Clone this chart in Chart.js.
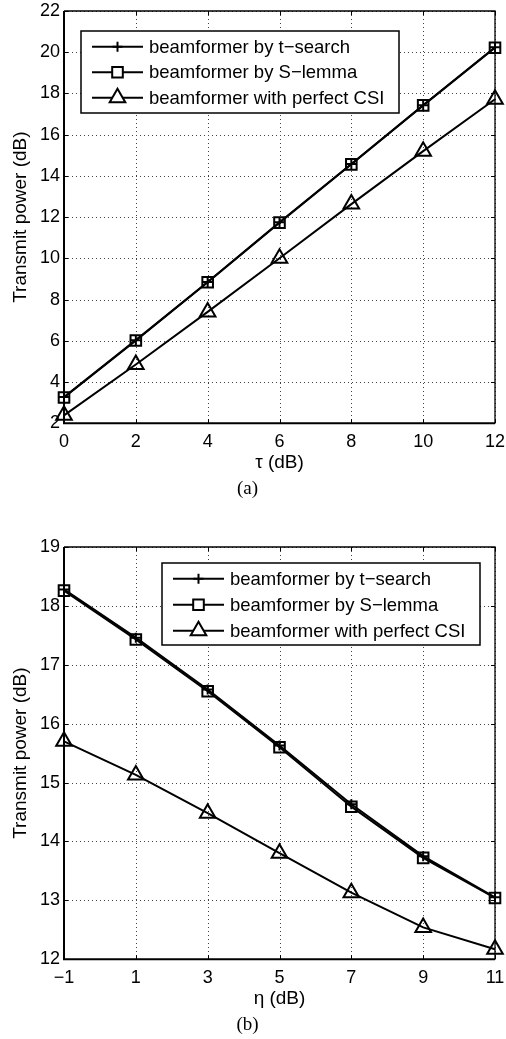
<!DOCTYPE html>
<html>
<head>
<meta charset="utf-8">
<script src="https://cdn.jsdelivr.net/npm/chart.js@4.4.1/dist/chart.umd.min.js"></script>
<style>
  html, body { margin: 0; padding: 0; background: #fff; }
  .panel { position: absolute; left: 0; width: 506px; height: 500px; }
</style>
</head>
<body>
<div class="panel" style="top:0"><canvas id="chartA" width="506" height="500"></canvas></div>
<div class="panel" style="top:536px"><canvas id="chartB" width="506" height="500"></canvas></div>
<script>
// series names (shared by both panels)
const seriesNames = ['beamformer by t\u2212search', 'beamformer by S\u2212lemma', 'beamformer with perfect CSI'];

// panel (a): transmit power vs tau
const tauDb = [0, 2, 4, 6, 8, 10, 12];
const tSearchA = [3.27, 6.03, 8.85, 11.75, 14.58, 17.43, 20.24];
const sLemmaA = [3.25, 6.01, 8.84, 11.73, 14.56, 17.42, 20.22];
const perfectA = [2.38, 4.85, 7.40, 10.00, 12.63, 15.20, 17.72];
const xTicksA = [0, 2, 4, 6, 8, 10, 12];
const yTicksA = [2, 4, 6, 8, 10, 12, 14, 16, 18, 20, 22];

// panel (b): transmit power vs eta
const etaDb = [-1, 1, 3, 5, 7, 9, 11];
const tSearchB = [18.28, 17.46, 16.58, 15.63, 14.63, 13.75, 13.05];
const sLemmaB = [18.26, 17.43, 16.55, 15.60, 14.59, 13.72, 13.04];
const perfectB = [15.70, 15.13, 14.48, 13.80, 13.13, 12.54, 12.17];
const xTicksB = [-1, 1, 3, 5, 7, 9, 11];
const yTicksB = [12, 13, 14, 15, 16, 17, 18, 19];

const FONT = '"Liberation Sans", Arial, sans-serif';

// dotted grid + matlab-style box around the axes with inward ticks
const framePlugin = {
  id: 'frame',
  beforeDatasetsDraw(chart) {
    const { ctx, chartArea: a, scales } = chart;
    const xs = scales.x.ticks.map(t => Math.round(scales.x.getPixelForValue(t.value)) + 0.5);
    const ys = scales.y.ticks.map(t => Math.round(scales.y.getPixelForValue(t.value)) + 0.5);
    ctx.save();
    // grid
    ctx.strokeStyle = '#444';
    ctx.lineWidth = 1;
    ctx.setLineDash([1, 3]);
    ctx.beginPath();
    xs.forEach(px => { ctx.moveTo(px, a.top); ctx.lineTo(px, a.bottom); });
    ys.forEach(py => { ctx.moveTo(a.left, py); ctx.lineTo(a.right, py); });
    ctx.stroke();
    ctx.setLineDash([]);
    // inward ticks
    ctx.strokeStyle = '#000';
    ctx.beginPath();
    xs.forEach(px => {
      ctx.moveTo(px, a.bottom); ctx.lineTo(px, a.bottom - 4);
      ctx.moveTo(px, a.top); ctx.lineTo(px, a.top + 4);
    });
    ys.forEach(py => {
      ctx.moveTo(a.left, py); ctx.lineTo(a.left + 4, py);
      ctx.moveTo(a.right, py); ctx.lineTo(a.right - 4, py);
    });
    ctx.stroke();
    // box
    ctx.lineWidth = 1.3;
    ctx.beginPath();
    ctx.moveTo(a.left, a.top); ctx.lineTo(a.right, a.top); ctx.lineTo(a.right, a.bottom);
    ctx.stroke();
    ctx.lineWidth = 2;
    ctx.beginPath();
    ctx.moveTo(a.left, a.top); ctx.lineTo(a.left, a.bottom); ctx.lineTo(a.right, a.bottom);
    ctx.stroke();
    ctx.restore();
  }
};

// boxed legend drawn inside the plot area
const boxLegend = {
  id: 'boxLegend',
  afterDraw(chart, args, opts) {
    const { ctx, chartArea: a } = chart;
    const w = 318, h = 82;
    const left = opts.right != null ? a.right - opts.right - w : a.left + opts.left;
    const top = a.top + opts.top;
    ctx.save();
    ctx.fillStyle = '#fff';
    ctx.fillRect(left, top, w, h);
    ctx.strokeStyle = '#000';
    ctx.lineWidth = 1.5;
    ctx.strokeRect(left, top, w, h);
    chart.data.datasets.forEach((ds, i) => {
      const y = top + 15.7 + i * opts.rowH;
      ctx.strokeStyle = '#000';
      ctx.lineWidth = ds.borderWidth;
      ctx.beginPath();
      ctx.moveTo(left + 11, y); ctx.lineTo(left + 62, y);
      ctx.stroke();
      ctx.fillStyle = '#fff';
      ctx.lineWidth = ds.pointBorderWidth;
      Chart.helpers.drawPoint(ctx, {
        pointStyle: ds.pointStyle, radius: ds.pointRadius,
        borderWidth: ds.pointBorderWidth, rotation: 0
      }, left + 36.5, y);
      ctx.fillStyle = '#000';
      ctx.font = '18.5px ' + FONT;
      ctx.textBaseline = 'middle';
      ctx.textAlign = 'left';
      ctx.fillText(ds.label, left + 68, y + 1);
    });
    ctx.restore();
  }
};

const markers = [
  { pointStyle: 'cross', pointRadius: 5 },
  { pointStyle: 'rect', pointRadius: 7.5 },
  { pointStyle: 'triangle', pointRadius: 9 }
];

const minus = v => String(v).replace('-', '\u2212');
const noPad = s => { s.paddingLeft = 0; s.paddingRight = 0; s.paddingTop = 0; s.paddingBottom = 0; };

function makeChart(id, xs, series, xTicks, yTicks, xTitle, caption, legendOpts) {
  return new Chart(document.getElementById(id), {
    type: 'line',
    data: {
      datasets: series.map((ys, i) => ({
        label: seriesNames[i],
        data: xs.map((x, j) => ({ x: x, y: ys[j] })),
        borderColor: '#000',
        backgroundColor: 'rgba(0,0,0,0)',
        borderWidth: 2,
        pointBorderWidth: 2,
        pointBorderColor: '#000',
        pointBackgroundColor: 'rgba(0,0,0,0)',
        pointStyle: markers[i].pointStyle,
        pointRadius: markers[i].pointRadius,
        tension: 0,
        clip: false
      }))
    },
    options: {
      responsive: false,
      animation: false,
      devicePixelRatio: 1,
      layout: { padding: { top: 10, right: 11, left: 0, bottom: 0 } },
      scales: {
        x: {
          type: 'linear',
          min: xTicks[0],
          max: xTicks[xTicks.length - 1],
          afterBuildTicks: s => { s.ticks = xTicks.map(v => ({ value: v })); },
          afterFit: s => { s.height = 52; noPad(s); },
          ticks: {
            font: { family: FONT, size: 18, lineHeight: 1 },
            color: '#000', padding: 10, maxRotation: 0, autoSkip: false,
            callback: v => minus(v)
          },
          title: {
            display: true, text: xTitle, color: '#000',
            font: { family: FONT, size: 19 }, padding: { top: 0, bottom: 1 }
          },
          grid: { display: false, drawTicks: false },
          border: { display: false }
        },
        y: {
          min: yTicks[0],
          max: yTicks[yTicks.length - 1],
          afterBuildTicks: s => { s.ticks = yTicks.map(v => ({ value: v })); },
          afterFit: s => { s.width = 64; noPad(s); },
          ticks: {
            font: { family: FONT, size: 18, lineHeight: 1 },
            color: '#000', padding: 4, autoSkip: false,
            callback: v => minus(v)
          },
          title: {
            display: true, text: 'Transmit power (dB)', color: '#000',
            font: { family: FONT, size: 19 }, padding: { top: 9, bottom: 0 }
          },
          grid: { display: false, drawTicks: false },
          border: { display: false }
        }
      },
      plugins: {
        legend: { display: false },
        tooltip: { enabled: false },
        title: {
          display: true, position: 'bottom', text: caption, color: '#000',
          font: { family: '"Liberation Serif", "Times New Roman", serif', size: 19, weight: 'normal' },
          padding: { top: 2, bottom: 0 }
        },
        boxLegend: legendOpts
      }
    },
    plugins: [framePlugin, boxLegend]
  });
}

makeChart('chartA', tauDb, [tSearchA, sLemmaA, perfectA], xTicksA, yTicksA,
  '\u03c4 (dB)', '(a)', { left: 17, top: 20, rowH: 25.5 });
makeChart('chartB', etaDb, [tSearchB, sLemmaB, perfectB], xTicksB, yTicksB,
  '\u03b7 (dB)', '(b)', { right: 15, top: 16, rowH: 26 });
</script>
</body>
</html>
